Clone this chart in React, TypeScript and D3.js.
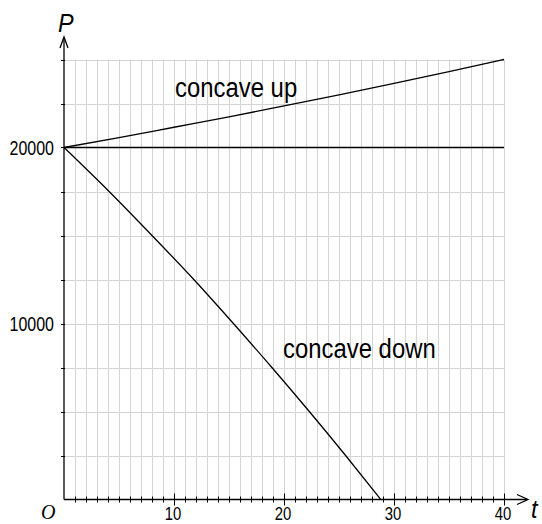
import React from 'react';
import * as d3 from 'd3';

// values
const upT = [0, 5, 10, 15, 20, 25, 30, 35, 40];
const upP = [20000, 20560, 21150, 21740, 22360, 22990, 23640, 24310, 25000];
const downT = [0, 4.1, 8.0, 11.8, 15.4, 18.9, 22.3, 25.6, 28.8];
const downP = [20000, 17500, 15000, 12500, 10000, 7500, 5000, 2500, 0];
const flatP = 20000;
const xTickLabels = [10, 20, 30, 40];
const yTickLabels = [10000, 20000];

const W = 542;
const H = 524;

const font = '"Liberation Sans", Arial, sans-serif';

// text that is squeezed horizontally like the reference
const Narrow = ({ x, y, size, sx, anchor = 'start', italic = false, children }: any) => (
  <text transform={`translate(${x},${y}) scale(${sx},1)`} fontFamily={font} fontSize={size}
    fontStyle={italic ? 'italic' : 'normal'} textAnchor={anchor} fill="#000">{children}</text>
);

const App = () => {
  const x = d3.scaleLinear().domain([0, 40]).range([64, 504]);
  const y = d3.scaleLinear().domain([0, 25000]).range([499.5, 59.5]);

  const xGrid = d3.range(1, 41);
  const yGrid = d3.range(2500, 25001, 2500);

  const line = d3.line<[number, number]>()
    .x(d => x(d[0]))
    .y(d => y(d[1]))
    .curve(d3.curveMonotoneX);

  const up = upT.map((t, i) => [t, upP[i]] as [number, number]);
  const down = downT.map((t, i) => [t, downP[i]] as [number, number]);

  const x0 = x(0);
  const y0 = y(0);

  return (
    <svg width={W} height={H} style={{ position: 'absolute', left: 0, top: 0, background: '#fff' }}>
      {/* grid */}
      <g stroke="#d4d4d4" strokeWidth={1}>
        {xGrid.map(t => (
          <line key={'gx' + t} x1={Math.round(x(t)) + 0.5} x2={Math.round(x(t)) + 0.5} y1={y(25000)} y2={y0} />
        ))}
        {yGrid.map(p => (
          <line key={'gy' + p} x1={x0} x2={x(40)} y1={Math.round(y(p)) + 0.5} y2={Math.round(y(p)) + 0.5} />
        ))}
      </g>

      {/* axes */}
      <g stroke="#000" strokeWidth={1.3} fill="none">
        <line x1={x0} x2={x0} y1={y0} y2={38} />
        <polyline points={`${x0 - 4},${48} ${x0},${37} ${x0 + 4},${48}`} />
        <line x1={x0} x2={527} y1={y0} y2={y0} />
        <polyline points={`517,${y0 - 5} 528,${y0} 517,${y0 + 5}`} />
      </g>

      {/* ticks */}
      <g stroke="#000" strokeWidth={1}>
        {xGrid.map(t => (
          <line key={'tx' + t}
            x1={Math.round(x(t)) + 0.5} x2={Math.round(x(t)) + 0.5}
            y1={y0 - (t % 10 === 0 ? 6 : 3)} y2={y0 + (t % 10 === 0 ? 6 : 3)} />
        ))}
        {yGrid.map(p => (
          <line key={'ty' + p} x1={x0 - 3} x2={x0 + 1}
            y1={Math.round(y(p)) + 0.5} y2={Math.round(y(p)) + 0.5} />
        ))}
      </g>

      {/* tick labels */}
      {xTickLabels.map(t => (
        <Narrow key={'lx' + t} x={x(t) - 1} y={520} size={17.5} sx={0.85} anchor="middle">{t}</Narrow>
      ))}
      {yTickLabels.map(p => (
        <Narrow key={'ly' + p} x={54} y={y(p) + 7} size={19.5} sx={0.82} anchor="end">{p}</Narrow>
      ))}

      {/* curves */}
      <g fill="none" stroke="#000" strokeWidth={1.3}>
        <line x1={x(0)} x2={x(40)} y1={y(flatP)} y2={y(flatP)} />
        <path d={line(up) || ''} />
        <path d={line(down) || ''} />
      </g>

      {/* annotations */}
      <Narrow x={175} y={97} size={27} sx={0.885}>concave up</Narrow>
      <Narrow x={283} y={358} size={27} sx={0.885}>concave down</Narrow>

      {/* axis names */}
      <Narrow x={58} y={32} size={26} sx={0.9} italic>P</Narrow>
      <Narrow x={531} y={518} size={26} sx={0.9} italic>t</Narrow>
      <text x={41} y={519} fontFamily='"Liberation Serif", "Times New Roman", serif'
        fontStyle="italic" fontSize={20} fill="#000">O</text>
    </svg>
  );
};

export default App;
